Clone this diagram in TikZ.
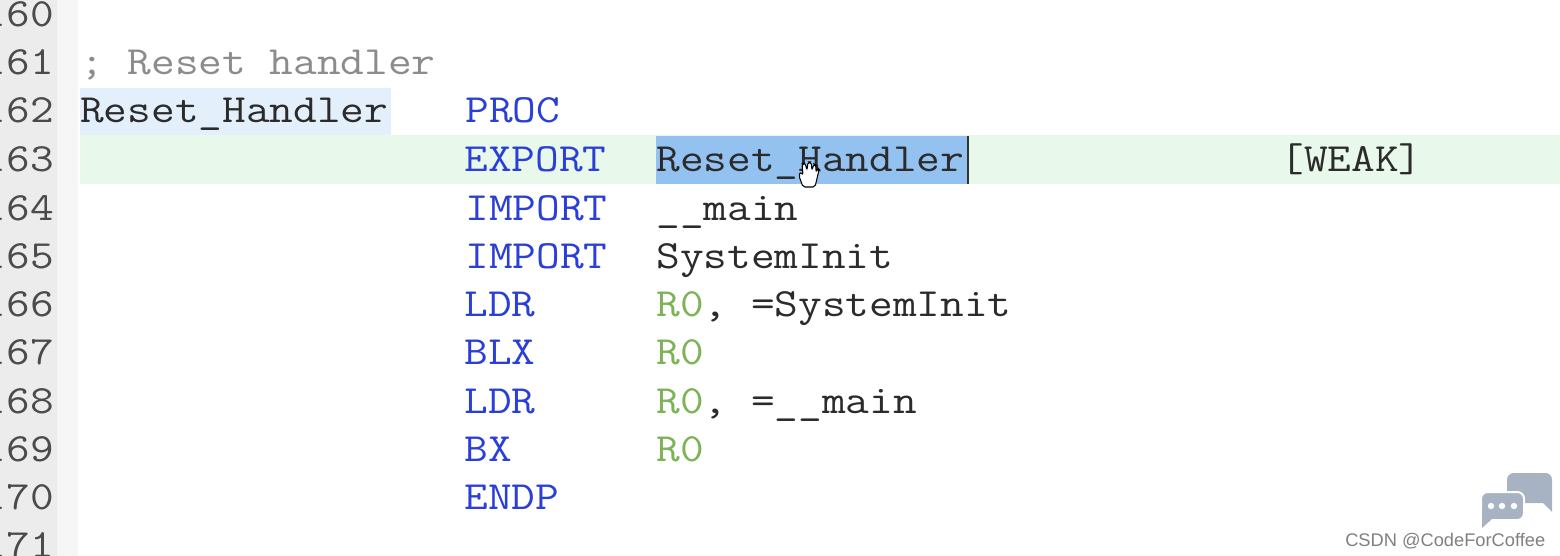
\documentclass[tikz,border=0pt]{standalone}
\usepackage{fontspec}
\newfontfamily\wmfont{Liberation Sans}
\definecolor{gutterc}{HTML}{ECECEC}
\definecolor{gutterd}{HTML}{F6F6F6}
\definecolor{kwc}{HTML}{2A3FD6}
\definecolor{regc}{HTML}{7DB356}
\definecolor{cmtc}{HTML}{8C8C8C}
\definecolor{txtc}{HTML}{2B2B2B}
\definecolor{linec}{HTML}{E8F8EA}
\definecolor{wordc}{HTML}{E3EFFB}
\definecolor{selc}{HTML}{93C1F0}
\definecolor{bubblec}{HTML}{A7B3C2}
\tikzset{
  code/.style={font=\fontsize{30}{30}\ttfamily, anchor=base west, inner sep=0pt, xscale=1.15, text=txtc},
  kw/.style={code, text=kwc},
  cmt/.style={code, text=cmtc},
  lnum/.style={code, anchor=base east, text=txtc!85},
  wm/.style={font=\fontsize{13.7}{13.7}\wmfont, anchor=base west, inner sep=0pt, text=black!50},
}
\begin{document}
\begin{tikzpicture}[x=0.75pt,y=-0.75pt]
    \useasboundingbox (0,0) rectangle (1560,556);
    \clip (0,0) rectangle (1560,556);

    % 背景
    \fill[white] (0,0) rectangle (1560,556);
    \fill[gutterc] (0,0) rectangle (57,556);
    \fill[gutterd] (57,0) rectangle (78,556);
    \fill[wordc] (80,88) rectangle (391,135);
    \fill[linec] (80,135) rectangle (1560,184);
    \fill[selc] (656,136) rectangle (968,184);
    \draw[black!80, line width=1.2pt] (968,136) -- (968,184);

    % 行號
    \foreach \n/\y in {160/27, 161/75, 162/123, 163/172, 164/220, 165/268,
                       166/316, 167/364, 168/413, 169/461, 170/509, 171/557}
        \node[lnum] (num\n) at (54,\y) {\n};

    % 程式碼
    \node[cmt] (comment) at (80,75) {; Reset handler};
    \node[code] (label) at (80,123) {Reset\_Handler};
    \node[kw] (proc) at (465,123) {PROC};
    \node[kw] (export) at (464,172) {EXPORT};
    \node[code] (symbol) at (656,172) {Reset\_Handler};
    \node[code] (weak) at (1280,172) {[WEAK]};
    \node[kw] (importa) at (465,220) {IMPORT};
    \node[code] (main) at (656,220) {\_\_main};
    \node[kw] (importb) at (465,268) {IMPORT};
    \node[code] (sysinit) at (656,268) {SystemInit};
    \node[kw] (ldra) at (464,316) {LDR};
    \node[code] (ldrarg) at (656,316) {\textcolor{regc}{R0}, =SystemInit};
    \node[kw] (blx) at (464,364) {BLX};
    \node[code, text=regc] (rb) at (656,364) {R0};
    \node[kw] (ldrb) at (464,413) {LDR};
    \node[code] (ldrbarg) at (656,413) {\textcolor{regc}{R0}, =\_\_main};
    \node[kw] (bx) at (464,461) {BX};
    \node[code, text=regc] (rd) at (656,461) {R0};
    \node[kw] (endp) at (464,509) {ENDP};

    % 游標
    \draw[fill=white, line width=0.8pt, rounded corners=1.5pt]
        (803,187) -- (799,176) -- (800,172) -- (803,175) -- (802,164) -- (805,163)
        -- (807,170) -- (808,162) -- (811,162) -- (812,170) -- (814,164) -- (816,165)
        -- (816,172) -- (818,168) -- (819,170) -- (815,187) -- cycle;

    % 水印
    \fill[bubblec, rounded corners=5pt]
        (1507,473) rectangle (1552,503);
    \fill[bubblec] (1530,495) -- (1552,495) -- (1552,512) -- (1540,500) -- cycle;
    \fill[bubblec, draw=white, line width=1.5pt, rounded corners=5pt]
        (1481,492) rectangle (1524,520);
    \fill[bubblec] (1482,510) -- (1492,519) -- (1482,528) -- cycle;
    \foreach \x in {1491,1502,1514}
        \fill[white] (\x,506) circle (3.2);
    \node[wm] (brand) at (1345,546) {CSDN @CodeForCoffee};
\end{tikzpicture}
\end{document}
